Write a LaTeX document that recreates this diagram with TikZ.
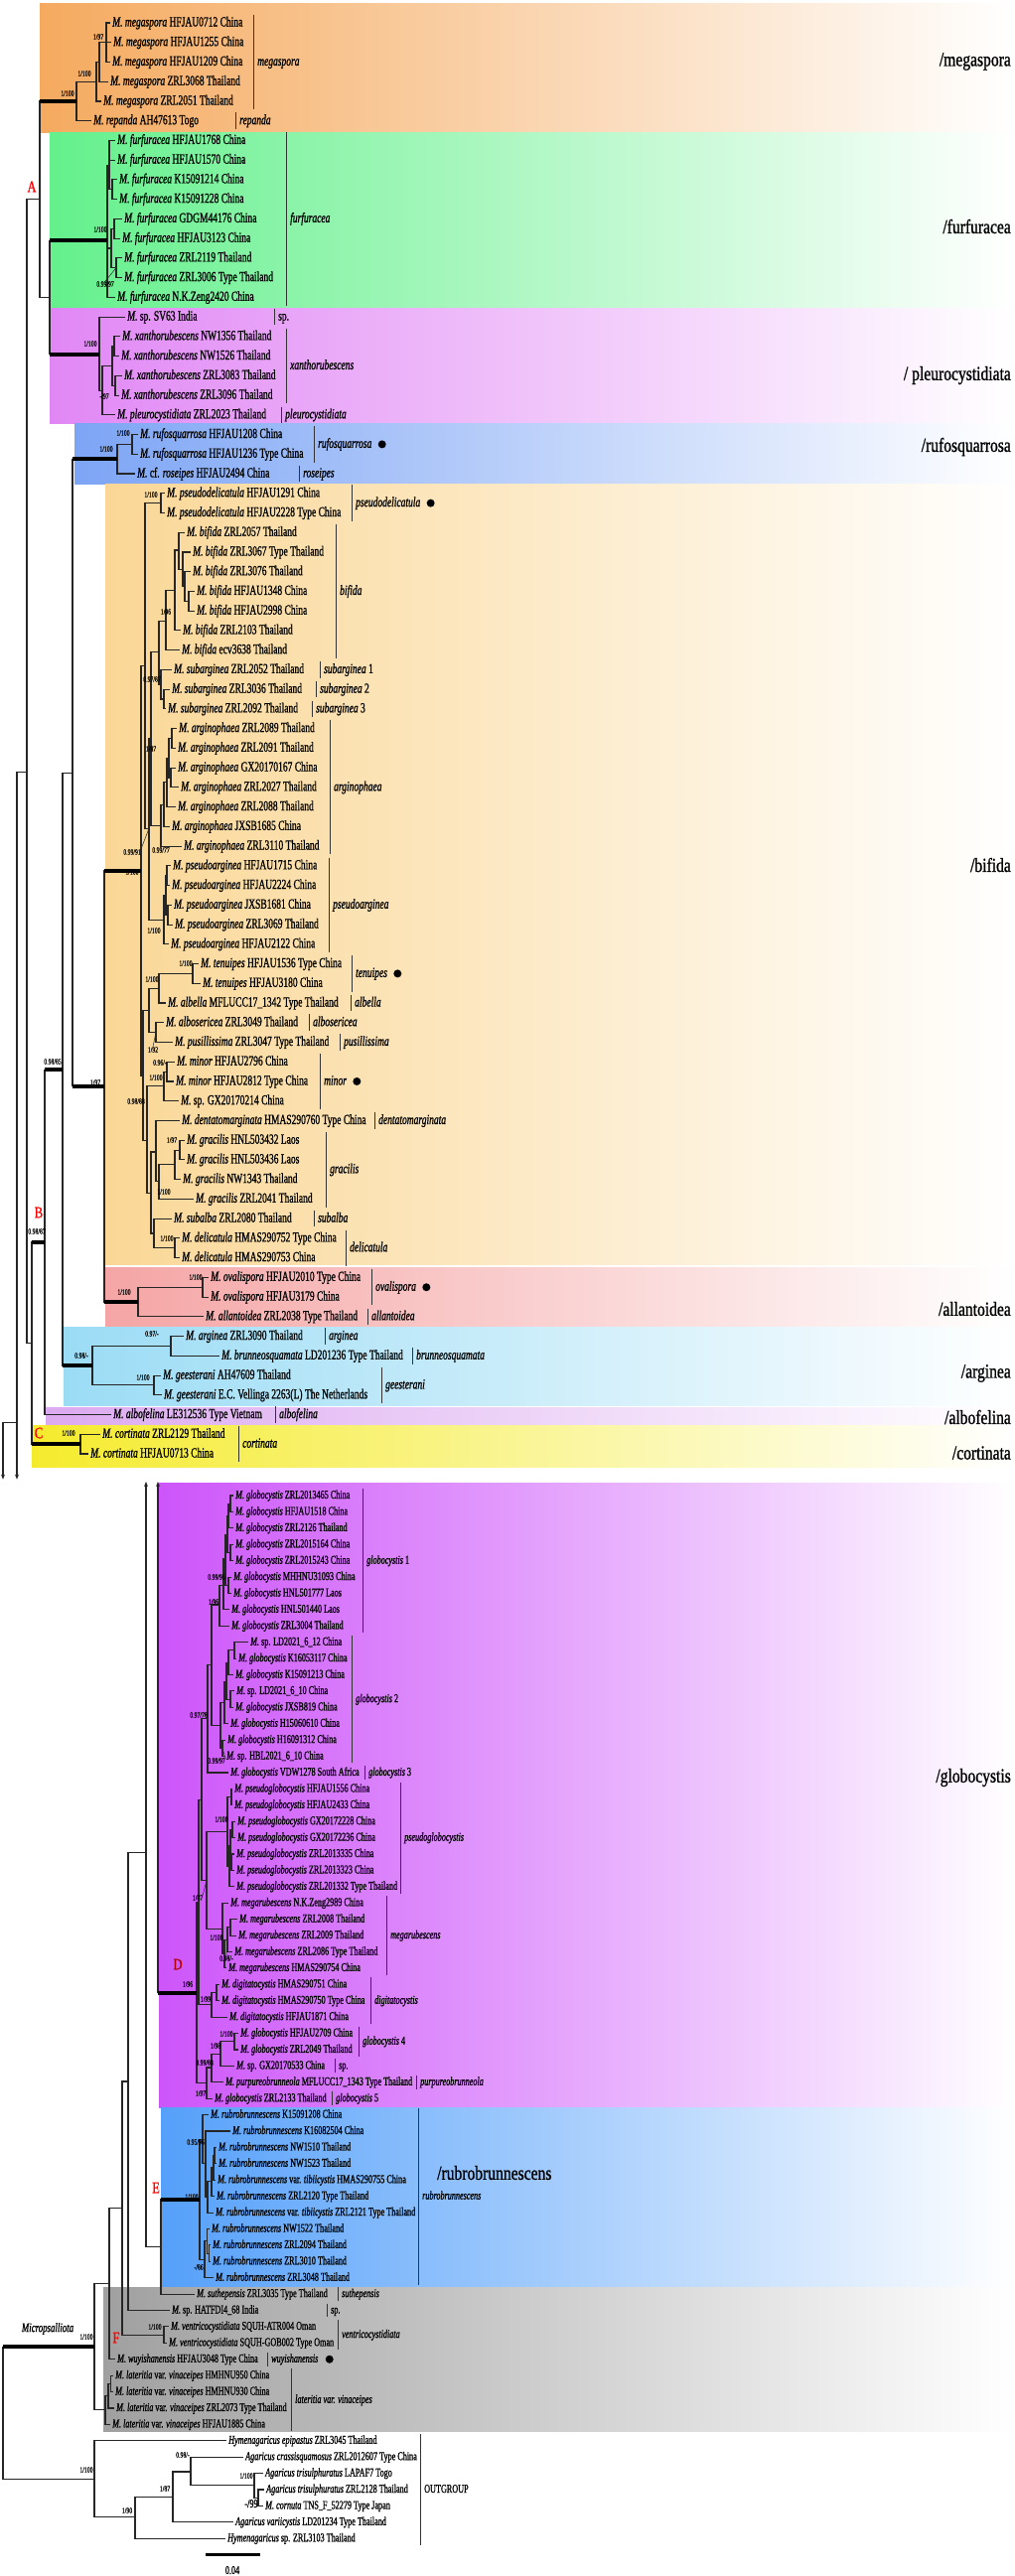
\documentclass[tikz,border=0pt]{standalone}
\usepackage{fontspec}
\setmainfont{Liberation Serif}
\newfontfamily\tfont[FakeStretch=0.68,FakeBold=1]{Liberation Serif}
\newfontfamily\sfont[FakeStretch=0.72,FakeBold=0.6]{Liberation Serif}
\newfontfamily\gfont[FakeStretch=0.78,FakeBold=1]{Liberation Serif}
\usetikzlibrary{arrows.meta,positioning}
\definecolor{cMeg}{RGB}{245,170,95}
\definecolor{cFur}{RGB}{100,240,140}
\definecolor{cPle}{RGB}{225,135,245}
\definecolor{cRuf}{RGB}{125,165,245}
\definecolor{cBif}{RGB}{250,215,150}
\definecolor{cAll}{RGB}{245,165,165}
\definecolor{cArg}{RGB}{155,220,245}
\definecolor{cAlf}{RGB}{220,170,240}
\definecolor{cCor}{RGB}{245,235,45}
\definecolor{cGlo}{RGB}{205,85,250}
\definecolor{cRub}{RGB}{85,160,250}
\definecolor{cGry}{RGB}{160,160,160}
\tikzset{
  >={Stealth[length=5pt,width=4pt]},
  brn/.style ={line width=1.1pt, black!85},
  tbr/.style ={line width=4pt, black},
  cbar/.style={line width=0.9pt, black!80},
  lfu/.style ={anchor=west, inner xsep=2pt, inner ysep=0pt, text height=10pt, text depth=3pt, font=\tfont\fontsize{14}{14}\selectfont},
  lfl/.style ={anchor=west, inner xsep=2pt, inner ysep=0pt, text height=8.5pt, text depth=2.5pt, font=\tfont\fontsize{12}{12}\selectfont},
  clu/.style ={lfu, inner xsep=1pt},
  cll/.style ={lfl, inner xsep=1pt},
  svs/.style ={inner sep=0pt, font=\sfont\fontsize{8}{8}\selectfont},
  grp/.style ={anchor=east, inner sep=0pt, font=\gfont\fontsize{20}{20}\selectfont},
  ltr/.style ={inner sep=0pt, text=red, font=\gfont\fontsize{16}{16}\selectfont},
  blob/.style={circle, fill=black, inner sep=0pt, minimum size=8pt}
}
\newcommand\lf[4]{\node[leafn] (l#1) at (#2,#1) {\textit{#3} #4};}
\newcommand\kids[2]{\foreach \ch in {#2} \draw[brn] (#1) |- (\ch);}
\newcommand\thk[2]{\draw[tbr] (#1 |- #2) -- (#2);}
\newcommand\clade[5]{\draw[cbar] ({#2},{#3-0.42}) -- ({#2},{#4+0.42});
  \node[cladel] (#1) at ({#2+3},{(#3+#4)/2}) {\itshape #5};}
\newcommand\sv[4]{\node[svs] (#1) at (#2,#3) {#4};}
\newcommand\band[4]{\shade[left color=#1, right color=white] (#2,#3) rectangle (1021,#4);}

\begin{document}
\begin{tikzpicture}[x=1pt, y=-1pt]
\useasboundingbox (0,0) rectangle (1021,2594);
\fill[white] (0,0) rectangle (1021,2594);
\band{cMeg}{40}{3}{133}
\band{cFur}{50}{133.5}{310}
\band{cPle}{50}{310.5}{426}
\band{cRuf}{75}{426.5}{487}
\band{cBif}{106}{487.5}{1273}
\band{cAll}{106}{1276}{1336}
\band{cArg}{64}{1336.5}{1415}
\band{cAlf}{46}{1417}{1434}
\band{cCor}{32}{1435}{1477}
\band{cGlo}{160}{1493}{2122}
\band{cRub}{162}{2122.5}{2303}
\band{cGry}{104}{2303.5}{2448}

\begin{scope}[yshift=-3.26pt, y=-19.74pt, leafn/.style=lfu, cladel/.style=clu]
\lf{1}{111}{M. megaspora}{HFJAU0712 China}
\lf{2}{112}{M. megaspora}{HFJAU1255 China}
\lf{3}{111}{M. megaspora}{HFJAU1209 China}
\lf{4}{109}{M. megaspora}{ZRL3068 Thailand}
\lf{5}{102}{M. megaspora}{ZRL2051 Thailand}
\lf{6}{92}{M. repanda}{AH47613 Togo}
\lf{7}{116}{M. furfuracea}{HFJAU1768 China}
\lf{8}{116}{M. furfuracea}{HFJAU1570 China}
\lf{9}{118}{M. furfuracea}{K15091214 China}
\lf{10}{118}{M. furfuracea}{K15091228 China}
\lf{11}{123}{M. furfuracea}{GDGM44176 China}
\lf{12}{121}{M. furfuracea}{HFJAU3123 China}
\lf{13}{123}{M. furfuracea}{ZRL2119 Thailand}
\lf{14}{123}{M. furfuracea}{ZRL3006 Type Thailand}
\lf{15}{116}{M. furfuracea}{N.K.Zeng2420 China}
\lf{16}{126}{M.}{sp. SV63 India}
\lf{17}{121}{M. xanthorubescens}{NW1356 Thailand}
\lf{18}{120}{M. xanthorubescens}{NW1526 Thailand}
\lf{19}{123}{M. xanthorubescens}{ZRL3083 Thailand}
\lf{20}{120}{M. xanthorubescens}{ZRL3096 Thailand}
\lf{21}{116}{M. pleurocystidiata}{ZRL2023 Thailand}
\lf{22}{139}{M. rufosquarrosa}{HFJAU1208 China}
\lf{23}{139}{M. rufosquarrosa}{HFJAU1236 Type China}
\lf{24}{136}{M.}{cf. \textit{roseipes} HFJAU2494 China}
\lf{25}{166}{M. pseudodelicatula}{HFJAU1291 China}
\lf{26}{166}{M. pseudodelicatula}{HFJAU2228 Type China}
\lf{27}{186}{M. bifida}{ZRL2057 Thailand}
\lf{28}{192}{M. bifida}{ZRL3067 Type Thailand}
\lf{29}{192}{M. bifida}{ZRL3076 Thailand}
\lf{30}{196}{M. bifida}{HFJAU1348 China}
\lf{31}{196}{M. bifida}{HFJAU2998 China}
\lf{32}{182}{M. bifida}{ZRL2103 Thailand}
\lf{33}{181}{M. bifida}{ecv3638 Thailand}
\lf{34}{173}{M. subarginea}{ZRL2052 Thailand}
\lf{35}{171}{M. subarginea}{ZRL3036 Thailand}
\lf{36}{167}{M. subarginea}{ZRL2092 Thailand}
\lf{37}{178}{M. arginophaea}{ZRL2089 Thailand}
\lf{38}{177}{M. arginophaea}{ZRL2091 Thailand}
\lf{39}{177}{M. arginophaea}{GX20170167 China}
\lf{40}{180}{M. arginophaea}{ZRL2027 Thailand}
\lf{41}{177}{M. arginophaea}{ZRL2088 Thailand}
\lf{42}{171}{M. arginophaea}{JXSB1685 China}
\lf{43}{183}{M. arginophaea}{ZRL3110 Thailand}
\lf{44}{172}{M. pseudoarginea}{HFJAU1715 China}
\lf{45}{171}{M. pseudoarginea}{HFJAU2224 China}
\lf{46}{173}{M. pseudoarginea}{JXSB1681 China}
\lf{47}{174}{M. pseudoarginea}{ZRL3069 Thailand}
\lf{48}{170}{M. pseudoarginea}{HFJAU2122 China}
\lf{49}{200}{M. tenuipes}{HFJAU1536 Type China}
\lf{50}{202}{M. tenuipes}{HFJAU3180 China}
\lf{51}{167}{M. albella}{MFLUCC17\_1342 Type Thailand}
\lf{52}{165}{M. albosericea}{ZRL3049 Thailand}
\lf{53}{174}{M. pusillissima}{ZRL3047 Type Thailand}
\lf{54}{176}{M. minor}{HFJAU2796 China}
\lf{55}{175}{M. minor}{HFJAU2812 Type China}
\lf{56}{180}{M.}{sp. GX20170214 China}
\lf{57}{181}{M. dentatomarginata}{HMAS290760 Type China}
\lf{58}{186}{M. gracilis}{HNL503432 Laos}
\lf{59}{186}{M. gracilis}{HNL503436 Laos}
\lf{60}{182}{M. gracilis}{NW1343 Thailand}
\lf{61}{195}{M. gracilis}{ZRL2041 Thailand}
\lf{62}{173}{M. subalba}{ZRL2080 Thailand}
\lf{63}{181}{M. delicatula}{HMAS290752 Type China}
\lf{64}{181}{M. delicatula}{HMAS290753 China}
\lf{65}{210}{M. ovalispora}{HFJAU2010 Type China}
\lf{66}{210}{M. ovalispora}{HFJAU3179 China}
\lf{67}{205}{M. allantoidea}{ZRL2038 Type Thailand}
\lf{68}{185}{M. arginea}{ZRL3090 Thailand}
\lf{69}{221}{M. brunneosquamata}{LD201236 Type Thailand}
\lf{70}{162}{M. geesterani}{AH47609 Thailand}
\lf{71}{163}{M. geesterani}{E.C. Vellinga 2263(L) The Netherlands}
\lf{72}{112}{M. albofelina}{LE312536 Type Vietnam}
\lf{73}{101}{M. cortinata}{ZRL2129 Thailand}
\lf{74}{89}{M. cortinata}{HFJAU0713 China}

\coordinate (M3) at (107,2);     \coordinate (M2) at (100,3);
\coordinate (M1) at (97,4);      \coordinate (M0) at (77,5);
\coordinate (F1a) at (113,9.5);  \coordinate (F1) at (110,8.25);
\coordinate (F2a) at (115,11.5); \coordinate (F2b) at (117,13.5);
\coordinate (F2) at (112,12.5);  \coordinate (F0) at (108,12.1);
\coordinate (P2a) at (115,17.5); \coordinate (P2b) at (116,19.5);
\coordinate (P2) at (113,18.5);  \coordinate (P1) at (103,19.75);
\coordinate (P0) at (100,17.9);  \coordinate (N50) at (50,15);
\coordinate (N40) at (40,10);
\coordinate (RF2) at (133,22.5); \coordinate (RF1) at (118,23.25);
\coordinate (PD) at (162,25.5);
\coordinate (b4) at (190,30.5);  \coordinate (b3) at (186,29.75);
\coordinate (b2) at (184,28.9);  \coordinate (b1) at (180,27.9);
\coordinate (b0) at (176,29.96); \coordinate (BIF) at (167,31.5);
\coordinate (S1) at (165,35.5);  \coordinate (SUB) at (162,34.75);
\coordinate (N0997) at (160,33.1);
\coordinate (a3) at (173,37.5);  \coordinate (a4) at (172,39.5);
\coordinate (a2) at (170,38.5);  \coordinate (a1) at (168,39.75);
\coordinate (a0) at (165,40.9);  \coordinate (ARG) at (162,41.95);
\coordinate (N187) at (152,37.5);
\coordinate (pa1) at (168,44.5); \coordinate (pa2) at (169,46.5);
\coordinate (pa3) at (167,45.5); \coordinate (PA) at (165,46.75);
\coordinate (N0991) at (150,42.1); \coordinate (UP) at (146,33.8);
\coordinate (TNp) at (194,49.5); \coordinate (TN) at (160,50.25);
\coordinate (AP) at (157,52.5);  \coordinate (L1) at (150,51.4);
\coordinate (MN1) at (168,54.5); \coordinate (MN0) at (165,55.25);
\coordinate (gr2) at (181,58.5); \coordinate (gr1) at (176,59.25);
\coordinate (GR) at (160,60.1);  \coordinate (DG) at (157,58.6);
\coordinate (DL) at (176,63.5);  \coordinate (SD) at (155,62.75);
\coordinate (L3) at (152,60.7);  \coordinate (L2) at (148,58);
\coordinate (LOW) at (144,54.7); \coordinate (Bf0) at (142,44.25);
\coordinate (OVp) at (204,65.5); \coordinate (AL) at (139,66.25);
\coordinate (N105) at (105,55.25); \coordinate (N73) at (73,39.25);
\coordinate (AR1) at (172,68.5); \coordinate (GE) at (155,70.5);
\coordinate (AR0) at (93,69.5);  \coordinate (N63) at (63,54.4);
\coordinate (N45) at (45,63.2);  \coordinate (CO) at (81,73.5);
\coordinate (N32) at (32,68.35); \coordinate (N27) at (27,39.2);
\coordinate (N17) at (17,39.2);  \coordinate (N17e) at (17,75.3);
\coordinate (N3) at (3,72.4);    \coordinate (N3e) at (3,75.3);

\kids{M3}{l1.west,l2.west,l3.west}
\kids{M2}{M3,l4.west}
\kids{M1}{M2,l5.west}
\kids{M0}{M1,l6.west}
\kids{F1a}{l9.west,l10.west}
\kids{F1}{l7.west,l8.west,F1a}
\kids{F2a}{l11.west,l12.west}
\kids{F2b}{l13.west,l14.west}
\kids{F2}{F2a,F2b}
\kids{F0}{F1,F2,l15.west}
\kids{P2a}{l17.west,l18.west}
\kids{P2b}{l19.west,l20.west}
\kids{P2}{P2a,P2b}
\kids{P1}{P2,l21.west}
\kids{P0}{l16.west,P1}
\kids{N50}{F0,P0}
\kids{N40}{M0,N50}
\kids{RF2}{l22.west,l23.west}
\kids{RF1}{RF2,l24.west}
\kids{PD}{l25.west,l26.west}
\kids{b4}{l30.west,l31.west}
\kids{b3}{l29.west,b4}
\kids{b2}{l28.west,b3}
\kids{b1}{l27.west,b2}
\kids{b0}{b1,l32.west}
\kids{BIF}{b0,l33.west}
\kids{S1}{l35.west,l36.west}
\kids{SUB}{l34.west,S1}
\kids{N0997}{BIF,SUB}
\kids{a3}{l37.west,l38.west}
\kids{a4}{l39.west,l40.west}
\kids{a2}{a3,a4}
\kids{a1}{a2,l41.west}
\kids{a0}{a1,l42.west}
\kids{ARG}{a0,l43.west}
\kids{N187}{N0997,ARG}
\kids{pa1}{l44.west,l45.west}
\kids{pa2}{l46.west,l47.west}
\kids{pa3}{pa1,pa2}
\kids{PA}{pa3,l48.west}
\kids{N0991}{N187,PA}
\kids{UP}{PD,N0991}
\kids{TNp}{l49.west,l50.west}
\kids{TN}{TNp,l51.west}
\kids{AP}{l52.west,l53.west}
\kids{L1}{TN,AP}
\kids{MN1}{l54.west,l55.west}
\kids{MN0}{MN1,l56.west}
\kids{gr2}{l58.west,l59.west}
\kids{gr1}{gr2,l60.west}
\kids{GR}{gr1,l61.west}
\kids{DG}{l57.west,GR}
\kids{DL}{l63.west,l64.west}
\kids{SD}{l62.west,DL}
\kids{L3}{DG,SD}
\kids{L2}{MN0,L3}
\kids{LOW}{L1,L2}
\kids{Bf0}{UP,LOW}
\kids{OVp}{l65.west,l66.west}
\kids{AL}{OVp,l67.west}
\kids{N105}{Bf0,AL}
\kids{N73}{RF1,N105}
\kids{AR1}{l68.west,l69.west}
\kids{GE}{l70.west,l71.west}
\kids{AR0}{AR1,GE}
\kids{N63}{N73,AR0}
\kids{N45}{N63,l72.west}
\kids{CO}{l73.west,l74.west}
\kids{N32}{N45,CO}
\kids{N27}{N40,N32}
\thk{N40}{M0} \thk{N50}{F0} \thk{N50}{P0}
\thk{N73}{RF1} \thk{N73}{N105} \thk{N105}{Bf0} \thk{N105}{AL}
\thk{N63}{AR0} \thk{N45}{N63} \thk{N32}{N45} \thk{N32}{CO}
\draw[brn] (N17) -- (N27);
\draw[brn,->] (N17) -- (N17e);
\draw[brn] (N3) -- (N3 -| N17);
\draw[brn,->] (N3) -- (N3e);

\clade{cMeg}{255}{1}{5}{megaspora}
\clade{cRep}{237}{6}{6}{repanda}
\clade{cFur}{288}{7}{15}{furfuracea}
\clade{cSp1}{276}{16}{16}{\textup{sp.}}
\clade{cXan}{288}{17}{20}{xanthorubescens}
\clade{cPle}{283}{21}{21}{pleurocystidiata}
\clade{cRuf}{316}{22}{23}{rufosquarrosa}
\clade{cRos}{301}{24}{24}{roseipes}
\clade{cPde}{354}{25}{26}{pseudodelicatula}
\clade{cBif}{338}{27}{33}{bifida}
\clade{cSa1}{322}{34}{34}{subarginea \textup{1}}
\clade{cSa2}{318}{35}{35}{subarginea \textup{2}}
\clade{cSa3}{314}{36}{36}{subarginea \textup{3}}
\clade{cArp}{332}{37}{43}{arginophaea}
\clade{cPar}{331}{44}{48}{pseudoarginea}
\clade{cTen}{354}{49}{50}{tenuipes}
\clade{cAlb}{353}{51}{51}{albella}
\clade{cAls}{311}{52}{52}{albosericea}
\clade{cPus}{342}{53}{53}{pusillissima}
\clade{cMin}{322}{54}{56}{minor}
\clade{cDen}{377}{57}{57}{dentatomarginata}
\clade{cGra}{328}{58}{61}{gracilis}
\clade{cSub}{316}{62}{62}{subalba}
\clade{cDel}{348}{63}{64}{delicatula}
\clade{cOva}{374}{65}{66}{ovalispora}
\clade{cAll}{370}{67}{67}{allantoidea}
\clade{cArg}{327}{68}{68}{arginea}
\clade{cBru}{415}{69}{69}{brunneosquamata}
\clade{cGee}{384}{70}{71}{geesterani}
\clade{cAlf}{277}{72}{72}{albofelina}
\clade{cCor}{240}{73}{74}{cortinata}
\node[blob, right=5pt of cRuf] (dRuf) {};
\node[blob, right=5pt of cPde] (dPde) {};
\node[blob, right=5pt of cTen] (dTen) {};
\node[blob, right=5pt of cMin] (dMin) {};
\node[blob, right=5pt of cOva] (dOva) {};
\end{scope}

\begin{scope}[yshift=-275.25pt, y=-16.41pt, leafn/.style=lfl, cladel/.style=cll]
\lf{75}{235}{M. globocystis}{ZRL2013465 China}
\lf{76}{235}{M. globocystis}{HFJAU1518 China}
\lf{77}{235}{M. globocystis}{ZRL2126 Thailand}
\lf{78}{235}{M. globocystis}{ZRL2015164 China}
\lf{79}{235}{M. globocystis}{ZRL2015243 China}
\lf{80}{233}{M. globocystis}{MHHNU31093 China}
\lf{81}{233}{M. globocystis}{HNL501777 Laos}
\lf{82}{231}{M. globocystis}{HNL501440 Laos}
\lf{83}{231}{M. globocystis}{ZRL3004 Thailand}
\lf{84}{250}{M.}{sp. LD2021\_6\_12 China}
\lf{85}{238}{M. globocystis}{K16053117 China}
\lf{86}{235}{M. globocystis}{K15091213 China}
\lf{87}{236}{M.}{sp. LD2021\_6\_10 China}
\lf{88}{235}{M. globocystis}{JXSB819 China}
\lf{89}{230}{M. globocystis}{H15060610 China}
\lf{90}{227}{M. globocystis}{H16091312 China}
\lf{91}{226}{M.}{sp. HBL2021\_6\_10 China}
\lf{92}{230}{M. globocystis}{VDW1278 South Africa}
\lf{93}{234}{M. pseudoglobocystis}{HFJAU1556 China}
\lf{94}{234}{M. pseudoglobocystis}{HFJAU2433 China}
\lf{95}{237}{M. pseudoglobocystis}{GX20172228 China}
\lf{96}{237}{M. pseudoglobocystis}{GX20172236 China}
\lf{97}{236}{M. pseudoglobocystis}{ZRL2013335 China}
\lf{98}{236}{M. pseudoglobocystis}{ZRL2013323 China}
\lf{99}{236}{M. pseudoglobocystis}{ZRL201332 Type Thailand}
\lf{100}{230}{M. megarubescens}{N.K.Zeng2989 China}
\lf{101}{239}{M. megarubescens}{ZRL2008 Thailand}
\lf{102}{238}{M. megarubescens}{ZRL2009 Thailand}
\lf{103}{234}{M. megarubescens}{ZRL2086 Type Thailand}
\lf{104}{228}{M. megarubescens}{HMAS290754 China}
\lf{105}{221}{M. digitatocystis}{HMAS290751 China}
\lf{106}{221}{M. digitatocystis}{HMAS290750 Type China}
\lf{107}{229}{M. digitatocystis}{HFJAU1871 China}
\lf{108}{240}{M. globocystis}{HFJAU2709 China}
\lf{109}{240}{M. globocystis}{ZRL2049 Thailand}
\lf{110}{236}{M.}{sp. GX20170533 China}
\lf{111}{225}{M. purpureobrunneola}{MFLUCC17\_1343 Type Thailand}
\lf{112}{214}{M. globocystis}{ZRL2133 Thailand}
\lf{113}{210}{M. rubrobrunnescens}{K15091208 China}
\lf{114}{232}{M. rubrobrunnescens}{K16082504 China}
\lf{115}{218}{M. rubrobrunnescens}{NW1510 Thailand}
\lf{116}{218}{M. rubrobrunnescens}{NW1523 Thailand}
\lf{117}{217}{M. rubrobrunnescens}{var. \textit{tibiicystis} HMAS290755 China}
\lf{118}{216}{M. rubrobrunnescens}{ZRL2120 Type Thailand}
\lf{119}{215}{M. rubrobrunnescens}{var. \textit{tibiicystis} ZRL2121 Type Thailand}
\lf{120}{211}{M. rubrobrunnescens}{NW1522 Thailand}
\lf{121}{212}{M. rubrobrunnescens}{ZRL2094 Thailand}
\lf{122}{212}{M. rubrobrunnescens}{ZRL3010 Thailand}
\lf{123}{215}{M. rubrobrunnescens}{ZRL3048 Thailand}
\lf{124}{196}{M. suthepensis}{ZRL3035 Type Thailand}
\lf{125}{171}{M.}{sp. HATFDI4\_68 India}
\lf{126}{170}{M. ventricocystidiata}{SQUH-ATR004 Oman}
\lf{127}{168}{M. ventricocystidiata}{SQUH-GOB002 Type Oman}
\lf{128}{116}{M. wuyishanensis}{HFJAU3048 Type China}
\lf{129}{114}{M. lateritia}{var. \textit{vinaceipes} HMHNU950 China}
\lf{130}{114}{M. lateritia}{var. \textit{vinaceipes} HMHNU930 China}
\lf{131}{115}{M. lateritia}{var. \textit{vinaceipes} ZRL2073 Type Thailand}
\lf{132}{111}{M. lateritia}{var. \textit{vinaceipes} HFJAU1885 China}
\lf{133}{228}{Hymenagaricus epipastus}{ZRL3045 Thailand}
\lf{134}{245}{Agaricus crassisquamosus}{ZRL2012607 Type China}
\lf{135}{265}{Agaricus trisulphuratus}{LAPAF7 Togo}
\lf{136}{266}{Agaricus trisulphuratus}{ZRL2128 Thailand}
\lf{137}{265}{M. cornuta}{TNS\_F\_52279 Type Japan}
\lf{138}{235}{Agaricus variicystis}{LD201234 Type Thailand}
\lf{139}{227}{Hymenagaricus}{sp. ZRL3103 Thailand}

\coordinate (g1a) at (232,75.5);  \coordinate (g1b) at (230,76.25);
\coordinate (g1c) at (232,78.5);  \coordinate (g1d) at (229,77.4);
\coordinate (g1e) at (230,80.5);  \coordinate (g1f) at (227,78.9);
\coordinate (G1a) at (225,80.5);  \coordinate (G1) at (221,81.7);
\coordinate (g2a) at (236,84.5);  \coordinate (g2b) at (230,85.25);
\coordinate (g2c) at (232,87.5);  \coordinate (g2d) at (228,86.4);
\coordinate (g2e) at (226,87.7);  \coordinate (g2f) at (224,90.5);
\coordinate (G2) at (222,89.1);   \coordinate (G12) at (213,85.4);
\coordinate (G123) at (209,88.7);
\coordinate (pg1) at (233,93.5);  \coordinate (pg2) at (234,95.5);
\coordinate (pg3) at (233,97.5);  \coordinate (pg4) at (232,96.5);
\coordinate (pg5) at (231,97.75); \coordinate (PG) at (229,95.6);
\coordinate (mr1) at (232,101.5); \coordinate (mr2) at (229,102.25);
\coordinate (mr3) at (226,103.1); \coordinate (MR) at (224,101.6);
\coordinate (PM) at (208,98.6);   \coordinate (D1a) at (203,93.65);
\coordinate (dg1) at (218,105.5); \coordinate (DIG) at (213,106.25);
\coordinate (D1) at (200,99.95);
\coordinate (G4) at (236,108.5);  \coordinate (N198) at (222,109.25);
\coordinate (N9988) at (213,110.1); \coordinate (D5) at (208,111.05);
\coordinate (D0) at (198,105.5);
\coordinate (r1) at (216,115.5);  \coordinate (r2) at (215,116.25);
\coordinate (r3) at (213,117.1);  \coordinate (RBa) at (209,118.05);
\coordinate (RBb) at (207,116);   \coordinate (RB1) at (204,114.5);
\coordinate (r4) at (210.5,121.5); \coordinate (r5) at (208.5,120.75);
\coordinate (RB2) at (206,121.9); \coordinate (RB0) at (201,118.2);
\coordinate (N162) at (162,121.1); \coordinate (N147) at (147,96.9);
\coordinate (N129) at (129,110.95); \coordinate (VE) at (165,126.5);
\coordinate (N123) at (123,118.7); \coordinate (N110) at (110,123.35);
\coordinate (lt1) at (111.5,129.5); \coordinate (lt2) at (109,130.25);
\coordinate (LT) at (106,131.1);  \coordinate (N95) at (95,127.2);
\coordinate (T1) at (260,136.5);  \coordinate (T0) at (256,135.75);
\coordinate (N192) at (192,134.9); \coordinate (N174) at (174,136.45);
\coordinate (N136) at (136,137.7); \coordinate (OG) at (95,135.35);
\coordinate (RT) at (3,127.2);
\coordinate (A147) at (147,74.15); \coordinate (A159) at (159,74.15);

\kids{g1a}{l75.west,l76.west}
\kids{g1b}{g1a,l77.west}
\kids{g1c}{l78.west,l79.west}
\kids{g1d}{g1b,g1c}
\kids{g1e}{l80.west,l81.west}
\kids{g1f}{g1d,g1e}
\kids{G1a}{g1f,l82.west}
\kids{G1}{G1a,l83.west}
\kids{g2a}{l84.west,l85.west}
\kids{g2b}{g2a,l86.west}
\kids{g2c}{l87.west,l88.west}
\kids{g2d}{g2b,g2c}
\kids{g2e}{g2d,l89.west}
\kids{g2f}{l90.west,l91.west}
\kids{G2}{g2e,g2f}
\kids{G12}{G1,G2}
\kids{G123}{G12,l92.west}
\kids{pg1}{l93.west,l94.west}
\kids{pg2}{l95.west,l96.west}
\kids{pg3}{l97.west,l98.west}
\kids{pg4}{pg2,pg3}
\kids{pg5}{pg4,l99.west}
\kids{PG}{pg1,pg5}
\kids{mr1}{l101.west,l102.west}
\kids{mr2}{mr1,l103.west}
\kids{mr3}{mr2,l104.west}
\kids{MR}{l100.west,mr3}
\kids{PM}{PG,MR}
\kids{D1a}{G123,PM}
\kids{dg1}{l105.west,l106.west}
\kids{DIG}{dg1,l107.west}
\kids{D1}{D1a,DIG}
\kids{G4}{l108.west,l109.west}
\kids{N198}{G4,l110.west}
\kids{N9988}{N198,l111.west}
\kids{D5}{N9988,l112.west}
\kids{D0}{D1,D5}
\kids{r1}{l115.west,l116.west}
\kids{r2}{r1,l117.west}
\kids{r3}{r2,l118.west}
\kids{RBa}{r3,l119.west}
\kids{RBb}{l114.west,RBa}
\kids{RB1}{l113.west,RBb}
\kids{r4}{l121.west,l122.west}
\kids{r5}{l120.west,r4}
\kids{RB2}{r5,l123.west}
\kids{RB0}{RB1,RB2}
\kids{N162}{RB0,l124.west}
\kids{N147}{N162}
\kids{N129}{N147,l125.west}
\kids{VE}{l126.west,l127.west}
\kids{N123}{N129,VE}
\kids{N110}{N123,l128.west}
\kids{lt1}{l129.west,l130.west}
\kids{lt2}{lt1,l131.west}
\kids{LT}{lt2,l132.west}
\kids{N95}{N110,LT}
\kids{T1}{l136.west,l137.west}
\kids{T0}{l135.west,T1}
\kids{N192}{l134.west,T0}
\kids{N174}{N192,l138.west}
\kids{N136}{N174,l139.west}
\kids{OG}{l133.west,N136}
\kids{RT}{N95,OG}
\draw[brn,->] (N147) -- (A147);
\draw[brn,->] (A159 |- D0) -- (A159);
\thk{A159}{D0} \thk{N162}{RB0} \thk{RT}{N95}

\clade{cG1}{365}{75}{83}{globocystis \textup{1}}
\clade{cG2}{354}{84}{91}{globocystis \textup{2}}
\clade{cG3}{367}{92}{92}{globocystis \textup{3}}
\clade{cPg}{403}{93}{99}{pseudoglobocystis}
\clade{cMr}{389}{100}{104}{megarubescens}
\clade{cDi}{373}{105}{107}{digitatocystis}
\clade{cG4}{361}{108}{109}{globocystis \textup{4}}
\clade{cSp2}{337}{110}{110}{\textup{sp.}}
\clade{cPu}{419}{111}{111}{purpureobrunneola}
\clade{cG5}{334}{112}{112}{globocystis \textup{5}}
\clade{cRb}{421}{113}{123}{rubrobrunnescens}
\clade{cSu}{340}{124}{124}{suthepensis}
\clade{cSp3}{329}{125}{125}{\textup{sp.}}
\clade{cVe}{340}{126}{127}{ventricocystidiata}
\clade{cWu}{269}{128}{128}{wuyishanensis}
\clade{cLa}{293}{129}{132}{lateritia var. vinaceipes}
\clade{cOut}{423}{133}{139}{\textup{OUTGROUP}}
\node[blob, right=6pt of cWu] (dWu) {};
\end{scope}

\sv{s1}{99}{37}{1/97}
\sv{s2}{85}{74}{1/100}
\sv{s3}{68}{94}{1/100}
\sv{s4}{101}{231}{1/100}
\sv{s5}{106}{286}{0.99/97}
\sv{s6}{91}{346}{1/100}
\sv{s7}{105}{399}{-/97}
\sv{s8}{124}{436}{1/100}
\sv{s9}{107}{452}{1/100}
\sv{s10}{152}{498}{1/100}
\sv{s11}{167}{616}{1/96}
\sv{s12}{153}{684}{0.97/87}
\sv{s13}{152}{754}{1/87}
\sv{s14}{133}{858}{0.99/91}
\sv{s15}{162}{856}{0.99/77}
\sv{s16}{133}{878}{1/100}
\sv{s17}{155}{937}{1/100}
\sv{s18}{187}{970}{1/100}
\sv{s19}{153}{986}{1/100}
\sv{s20}{154}{1057}{1/92}
\sv{s21}{161}{1070}{0.96/-}
\sv{s22}{53}{1069}{0.98/85}
\sv{s23}{157}{1085}{1/100}
\sv{s24}{96}{1090}{1/97}
\sv{s25}{137}{1109}{0.98/88}
\sv{s26}{173}{1148}{1/97}
\sv{s27}{165}{1200}{1/100}
\sv{s28}{37}{1240}{0.98/87}
\sv{s29}{168}{1247}{1/100}
\sv{s30}{197}{1286}{1/100}
\sv{s31}{125}{1301}{1/100}
\sv{s32}{153}{1343}{0.97/-}
\sv{s33}{82}{1365}{0.98/-}
\sv{s34}{144}{1387}{1/100}
\sv{s35}{69}{1443}{1/100}
\sv{s36}{218}{1588}{0.99/95}
\sv{s37}{215}{1613}{1/96}
\sv{s38}{200}{1727}{0.97/78}
\sv{s39}{218}{1773}{0.99/97}
\sv{s40}{223}{1832}{1/100}
\sv{s41}{199}{1911}{1/87}
\sv{s42}{218}{1951}{1/100}
\sv{s43}{228}{1972}{0.98/-}
\sv{s44}{189}{1998}{1/96}
\sv{s45}{207}{2013}{1/99}
\sv{s46}{228}{2048}{1/100}
\sv{s47}{217}{2060}{1/98}
\sv{s48}{206}{2077}{0.99/88}
\sv{s49}{202}{2108}{1/97}
\sv{s50}{197}{2157}{0.95/96}
\sv{s51}{193}{2212}{1/100}
\sv{s52}{200}{2283}{-/86}
\sv{s53}{156}{2343}{1/100}
\sv{s54}{87}{2353}{1/100}
\sv{s55}{87}{2487}{1/100}
\sv{s56}{184}{2472}{0.98/-}
\sv{s57}{248}{2493}{1/100}
\sv{s58}{166}{2506}{1/87}
\node[lfl, anchor=center] (s59) at (253,2522) {-/99};
\sv{s60}{128}{2528}{1/90}
\draw[brn, line width=0.5pt] (s5.north) -- (F2b);
\draw[brn, line width=0.5pt] (s14.north east) -- (N0991);
\draw[brn, line width=0.5pt] (s15.north) -- (ARG);
\draw[brn, line width=0.5pt] (s20.north) -- (AP);
\draw[brn, line width=0.5pt] (s39.north east) -- (g2f);
\draw[brn, line width=0.5pt] (s41.north east) -- (PM);
\draw[brn, line width=0.5pt] (s43.north) -- (mr2);

\node[ltr] (lA) at (32,188) {A};
\node[ltr] (lB) at (39,1221) {B};
\node[ltr] (lC) at (39,1443) {C};
\node[ltr, text=red!70!black] (lD) at (179,1978) {D};
\node[ltr] (lE) at (157,2203) {E};
\node[ltr] (lF) at (117,2354) {F};
\node[inner sep=0pt, font=\tfont\itshape\fontsize{13}{13}\selectfont] (mic) at (48,2345) {Micropsalliota};

\node[grp] (gMeg) at (1018,62) {/megaspora};
\node[grp] (gFur) at (1018,228) {/furfuracea};
\node[grp] (gPle) at (1018,378) {/ pleurocystidiata};
\node[grp] (gRuf) at (1018,450) {/rufosquarrosa};
\node[grp] (gBif) at (1018,871) {/bifida};
\node[grp] (gAll) at (1018,1318) {/allantoidea};
\node[grp] (gArg) at (1018,1383) {/arginea};
\node[grp] (gAlf) at (1018,1427) {/albofelina};
\node[grp] (gCor) at (1018,1463) {/cortinata};
\node[grp] (gGlo) at (1018,1790) {/globocystis};
\node[grp, anchor=west] (gRub) at (440,2188) {/rubrobrunnescens};

\draw[tbr, line width=3pt] (207,2572) coordinate (sb1) -- (262,2572) coordinate (sb2);
\node[lfl, anchor=center] (sbl) at (234,2589) {0.04};
\end{tikzpicture}
\end{document}
